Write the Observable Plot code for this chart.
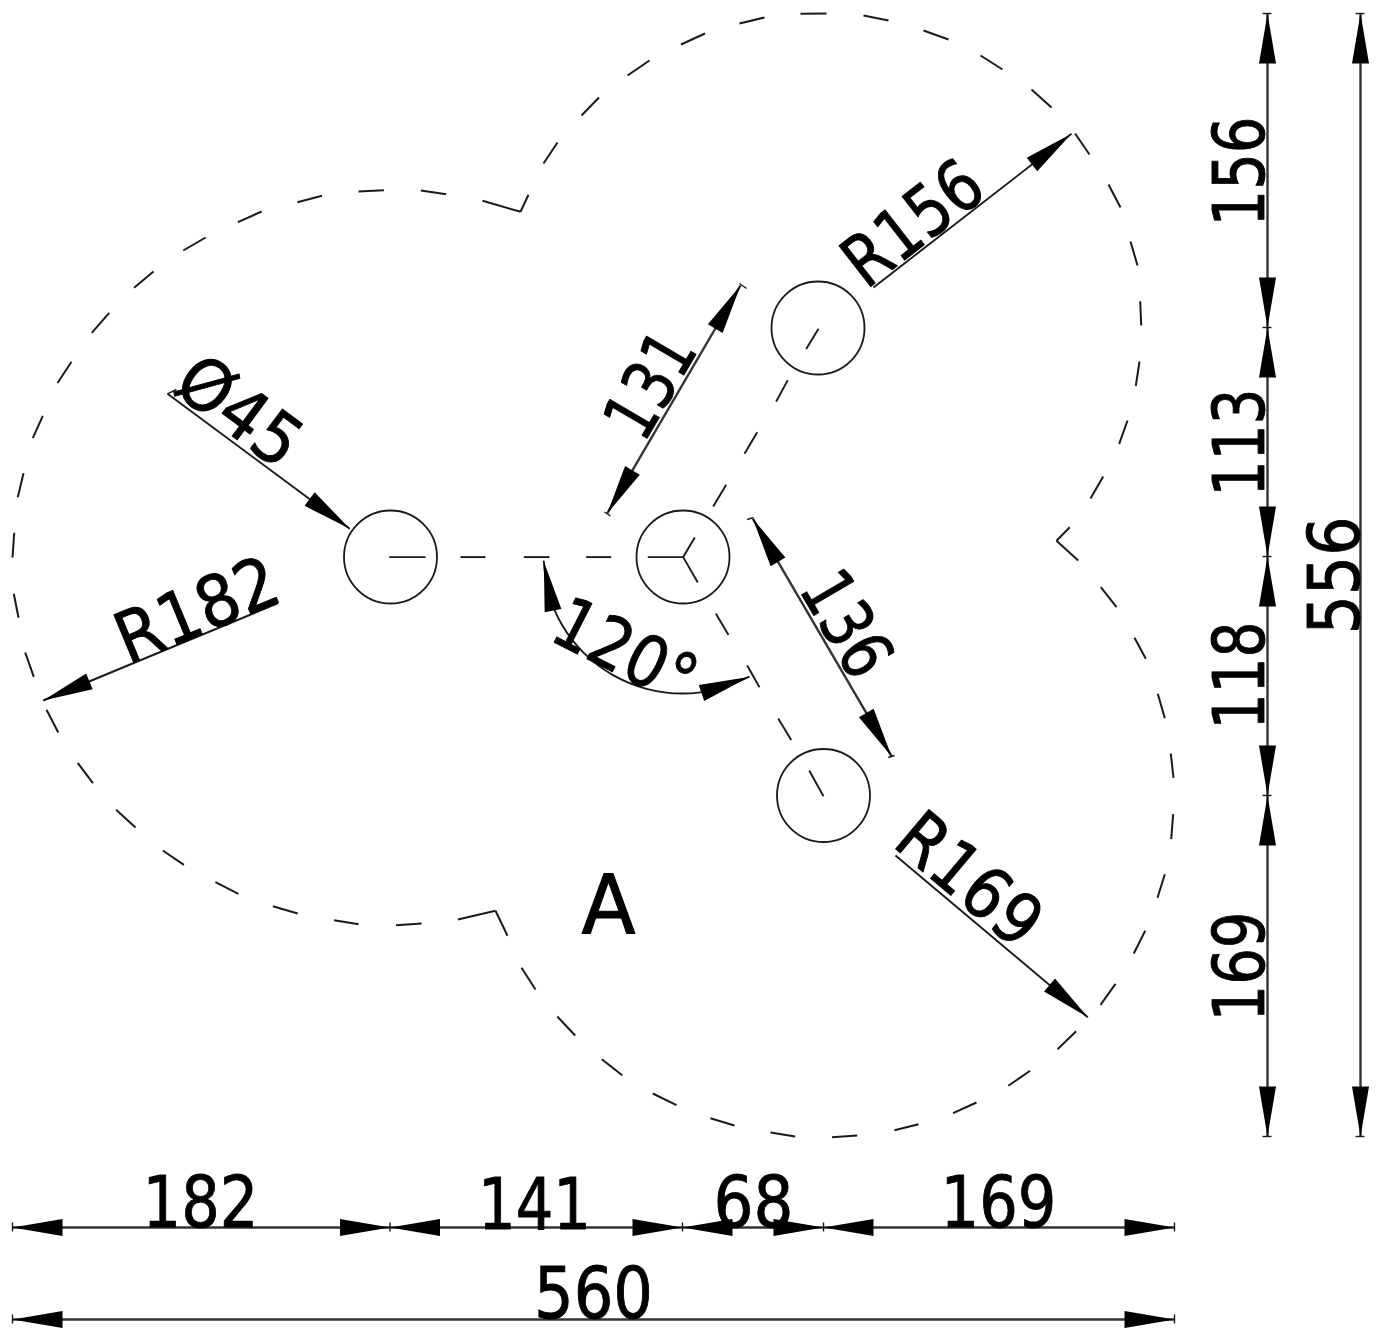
<!DOCTYPE html>
<html>
<head>
<meta charset="utf-8">
<script src="https://cdn.jsdelivr.net/npm/d3@7"></script>
<script src="https://cdn.jsdelivr.net/npm/@observablehq/plot@0.6"></script>
<style>html,body{margin:0;padding:0;background:#fff;overflow:hidden}svg{display:block}</style>
</head>
<body>
<div id="chart"></div>
<script>
// All positions are in the drawing's own coordinates.
const holes = [[390,556.5],[682.5,556.5],[817.5,327.5],[823,795]];

const outlineDashes = [
  [482,200.3,520,211.3],[520,211.3,528,194.3],
  [543,163,557,142],[581,115,598.5,97],[627,75,649,60],[680.5,44,704.5,33],[739,23,764,17],
  [800,13.3,826,13],[863,15,888,20],[923,30,948,39],[980,55,1002,69],[1031,89,1051,107],
  [1074.6,133,1089,154],[1108,184,1120,207],[1130,241,1137,265],
  [1139.7,300.7,1140.7,325],[1139,361,1135.3,385.3],[1127,420,1118.7,443.3],[1102.7,476,1090,498],
  [1069.3,526.7,1056,540.3],[1056,540.3,1077.7,560],
  [1100.3,586.7,1116,606.7],[1134,637.3,1145.3,658.3],[1157.3,693.3,1164.3,717.7],
  [1170.3,753,1173,777.3],[1172.7,813.7,1170.7,838.7],[1164.3,873.7,1157,897.3],
  [1144.7,930.3,1133.3,953],[1115,983.3,1100,1004.3],
  [1075.7,1030.7,1057,1048.7],[1029.6,1070.3,1007.8,1085.3],[976,1102,952.6,1112.7],
  [918,1123.7,894,1129.7],[856.7,1135,831.5,1136.7],[794.7,1136,770,1132],[734,1125,709.9,1117.7],
  [676,1104.7,652.2,1093],[621.7,1074.7,601.3,1058.7],[574.7,1035,556.8,1016],[535,989,521,967.3],
  [507,935.3,495,910.3],[495,910.3,457.4,919],
  [421.1,923,395.5,924.7],[358.1,923.7,333.6,919.7],[297.2,913,272.3,905.7],[238,893.3,214.9,881.7],
  [183.4,864.3,162.3,850],[135,827,115.6,809.3],[92.4,782.7,77.2,762.3],[57.8,732,46,709.3],
  [33.3,676.3,24.7,652],[18,617.3,13.3,593.3],[12,557,13.7,532.3],[17.3,496.7,23,472.7],
  [32.3,437.7,42.3,415.3],[57,382.5,71,361.3],[91.3,332.3,108.7,312.3],[133.6,287.3,153,271],
  [182.7,250,205.2,237],[237.4,221.7,261.2,211],[296.9,201.7,321.5,195.3],[358,191,383.4,189.7],
  [420.4,190,445.7,193.7]
];

const centerDashes = [
  [388.7,556.6,425,556.6],[460,556.6,485,556.6],[523.3,556.6,549,556.6],[585.7,556.6,610.7,556.6],
  [647.3,556.6,682.7,556.6],[682.7,556.6,694.3,537],[682.7,556.6,697.3,582],
  [712.7,506,725.7,484.3],[744,453.2,756.7,431.8],[775.7,401,787.3,379.6],[805.7,348.6,818,328.2],
  [715.3,612.9,728,634.6],[746.7,665,759,686.8],[777.7,717.9,790.7,739.6],[808.7,770,823,795.7]
];

// Dimension lines: start, end; arrowheads at both ends or at the end only
const doubleDims = [
  [12,1227,389.5,1227],[389.5,1227,682,1227],[682,1227,823,1227],[823,1227,1174,1227],
  [12,1319,1174,1319],
  [1267,13,1267,327],[1267,327,1267,556],[1267,556,1267,795],[1267,795,1267,1136],
  [1360,13,1360,1136],
  [606.7,513,740,285],[752.3,518.2,891,755.7]
];
const singleDims = [
  [167,393.3,349.3,528.3],[277.7,602.7,42.7,700],[873,287,1071,133.3],[895,855,1087.3,1016.7]
];
const dimTicks = [
  [12,1222,12,1231],[389.5,1222,389.5,1231],[682,1222,682,1231],[823,1222,823,1231],[1174,1222,1174,1231],
  [12,1314,12,1323],[1174,1314,1174,1323],
  [1262,13,1271,13],[1262,327,1271,327],[1262,556,1271,556],[1262,795,1271,795],[1262,1136,1271,1136],
  [1355,13,1364,13],[1355,1136,1364,1136],
  [604,511.5,610,515.5],[739,283,746,288],[746.7,519,753,517],[887.7,757,894,755],
  [167,393.3,176,389]
];

const angleArc = [[543.3,561],[547.7,591.5],[561.6,624.5],[583.7,652.9],[612.5,674.6],[646,688.3],[682,693],[718,688.3],[748.3,676.4]];
const arcHeads = [[543.3,561,551.7,605.7],[748.3,676.4,704.3,691.4]]; // tip, then a point behind it

const labels = ["182","141","68","169","560","156","113","118","169","556","Ø45","R182","R156","R169","131","136","120°"];
const labelX = [200,534,753,998,593,1241,1241,1241,1241,1336,238,197,913,968,651,845,624];
const labelY = [1204,1206,1204,1204,1295,171,442,675,966,575,412,611,224,880,385,624,652];
const labelAngle = [0,0,0,0,0,-90,-90,-90,-90,-90,36.6,-22.5,-37.9,40,-59.7,59.7,27];
const labelLength = [116,113,80,116,119,110,108,108,110,118,135,170,156,165,110,110,150];
const partLabel = ["A"];
const partX = [608];
const partY = [906];

const seg = {x1:d=>d[0],y1:d=>d[1],x2:d=>d[2],y2:d=>d[3]};
const heads = [
  ...doubleDims.flatMap(d=>[[d[0],d[1],d[2],d[3]],[d[2],d[3],d[0],d[1]]]),
  ...singleDims.map(d=>[d[2],d[3],d[0],d[1]]),
  ...arcHeads
];
const headRotate = d => Math.atan2(d[0]-d[2], d[3]-d[1]) * 180 / Math.PI;
const arrowHead = {draw(c){c.moveTo(0,0);c.lineTo(-8.5,50);c.lineTo(8.5,50);c.closePath();}};
const labelRows = labels.map((t,i)=>({t,x:labelX[i],y:labelY[i],a:labelAngle[i]}));
const ink = "#1a1a1a";
const font = "DejaVu Sans";

const plot = Plot.plot({
  width:1381,height:1328,margin:0,
  x:{domain:[0,1381],range:[0,1381],axis:null},
  y:{domain:[0,1328],range:[0,1328],axis:null},
  style:{background:"#fff"},
  marks:[
    Plot.dot(holes,{x:d=>d[0],y:d=>d[1],r:46.5,stroke:ink,strokeWidth:1.8,fill:"none"}),
    Plot.link(outlineDashes,{...seg,stroke:ink,strokeWidth:2}),
    Plot.link(centerDashes,{...seg,stroke:ink,strokeWidth:1.9}),
    Plot.link(doubleDims,{...seg,stroke:"#333",strokeWidth:2.4}),
    Plot.link(singleDims,{...seg,stroke:ink,strokeWidth:1.9}),
    Plot.link(dimTicks,{...seg,stroke:ink,strokeWidth:1.4}),
    Plot.line(angleArc,{x:d=>d[0],y:d=>d[1],curve:"catmull-rom",stroke:ink,strokeWidth:1.9}),
    Plot.dot(heads,{x:d=>d[0],y:d=>d[1],rotate:headRotate,symbol:arrowHead,fill:"#000"}),
    Plot.text(labelRows,{x:"x",y:"y",text:"t",rotate:"a",fontSize:71,fontFamily:font,fill:"#000",stroke:"#000",strokeWidth:0.9}),
    Plot.text(partLabel,{x:partX,y:partY,text:d=>d,fontSize:82,fontFamily:font,fill:"#000",stroke:"#000",strokeWidth:1.2})
  ]
});
document.getElementById("chart").appendChild(plot);
const textLengths = [...labelLength,54];
plot.querySelectorAll("text").forEach((el,i)=>{
  el.setAttribute("textLength",textLengths[i]);
  el.setAttribute("lengthAdjust","spacingAndGlyphs");
});
</script>
</body>
</html>
